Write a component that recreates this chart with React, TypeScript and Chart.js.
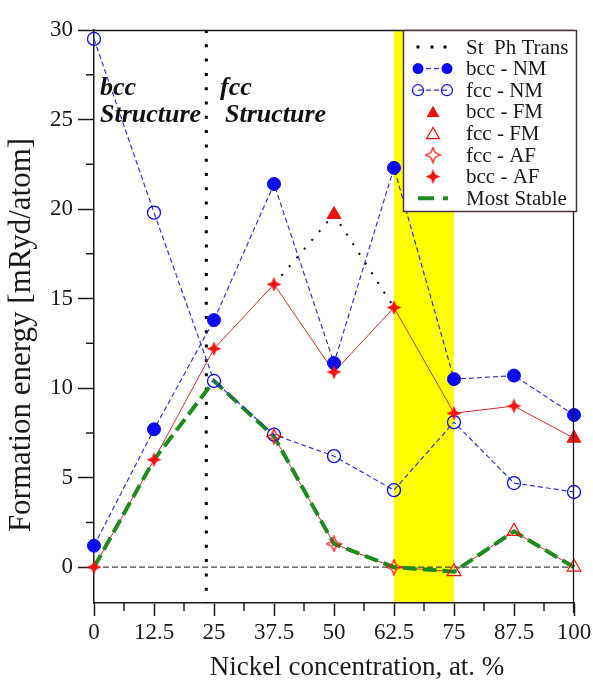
import React, { useEffect, useRef } from 'react';
import { Chart, registerables } from 'chart.js';

Chart.register(...registerables);

// ---------------- data ----------------
const concentrations = [0, 12.5, 25, 37.5, 50, 62.5, 75, 87.5, 100];
const bccNM = [1.2, 7.7, 13.8, 21.4, 11.4, 22.3, 10.5, 10.7, 8.5];
const fccNM = [29.5, 19.8, 10.4, 7.4, 6.2, 4.3, 8.1, 4.7, 4.2];

const bccFMx = [50, 100];
const bccFMy = [19.7, 7.2];

const fccFMx = [75, 87.5, 100];
const fccFMy = [-0.25, 2.0, 0.0];

const fccAFx = [37.5, 50, 62.5];
const fccAFy = [7.3, 1.3, 0.0];

const bccAFx = [0, 12.5, 25, 37.5, 50, 62.5, 75, 87.5];
const bccAFy = [0, 6.0, 12.2, 15.8, 10.9, 14.5, 8.6, 9.0];

// thin red line through the bcc magnetic states
const bccMagLine = [0, 6.0, 12.2, 15.8, 10.9, 14.5, 8.6, 9.0, 7.2];
// thin red line through the fcc magnetic states
const fccMagX = [37.5, 50, 62.5, 75, 87.5, 100];
const fccMagY = [7.3, 1.3, 0.0, -0.25, 2.0, 0.0];

const mostStable = [0, 6.0, 10.4, 7.3, 1.3, 0.0, -0.25, 2.0, 0.0];

const phaseBoundaryX = [23.4, 23.4];
const phaseBoundaryY = [30, -2];
const transX = [37.5, 50, 62.5];
const transY = [15.8, 19.7, 14.5];

const zeroLineX = [0, 100];
const zeroLineY = [0, 0];

const bandStart = 62.5;
const bandEnd = 75;

const yMin = -2;
const yMax = 30;
const yMajor = 5;
const yMinor = 2.5;
const xMin = 0;
const xMax = 100;
const xMajor = 12.5;
const xMinor = 6.25;

const legendLabels = [
  'St  Ph Trans',
  'bcc - NM',
  'fcc - NM',
  'bcc - FM',
  'fcc - FM',
  'fcc - AF',
  'bcc - AF',
  'Most Stable',
];

const xTitle = 'Nickel concentration, at. %';
const yTitle = 'Formation energy [mRyd/atom]';

// ---------------- styles ----------------
const SERIF = '"Liberation Serif", "Times New Roman", serif';
const BLUE = '#0a0af0';
const BLUE_LINE = '#3434c8';
const RED = '#ee1111';
const RED_LINE = '#c83030';
const GREEN = '#1f8a1f';
const INK = '#1a1a1a';

const pts = (xs: number[], ys: number[]) => xs.map((x, i) => ({ x, y: ys[i] }));

function makeStar(filled: boolean, size = 17): HTMLCanvasElement {
  const c = document.createElement('canvas');
  c.width = size;
  c.height = size;
  const g = c.getContext('2d')!;
  const cx = size / 2;
  const R = size / 2 - 1;
  const r = R * 0.42;
  g.beginPath();
  for (let i = 0; i < 8; i++) {
    const a = -Math.PI / 2 + (i * Math.PI) / 4;
    const rad = i % 2 === 0 ? R : r;
    const px = cx + rad * Math.cos(a);
    const py = cx + rad * Math.sin(a);
    if (i === 0) g.moveTo(px, py);
    else g.lineTo(px, py);
  }
  g.closePath();
  if (filled) {
    g.fillStyle = RED;
    g.fill();
  } else {
    g.strokeStyle = RED;
    g.lineWidth = 1.3;
    g.stroke();
  }
  return c;
}

function drawTriangle(ctx: CanvasRenderingContext2D, x: number, y: number, r: number, filled: boolean) {
  ctx.beginPath();
  for (let i = 0; i < 3; i++) {
    const a = (i * 2 * Math.PI) / 3;
    const px = x + Math.sin(a) * r;
    const py = y - Math.cos(a) * r;
    if (i === 0) ctx.moveTo(px, py);
    else ctx.lineTo(px, py);
  }
  ctx.closePath();
  if (filled) {
    ctx.fillStyle = RED;
    ctx.fill();
  } else {
    ctx.strokeStyle = RED;
    ctx.lineWidth = 1.2;
    ctx.stroke();
  }
}

export default function App() {
  const ref = useRef<HTMLCanvasElement | null>(null);

  useEffect(() => {
    const canvas = ref.current;
    if (!canvas) return;
    const starFilled = makeStar(true);
    const starOpen = makeStar(false);

    const decor = {
      id: 'decor',
      beforeDraw(chart: any) {
        const { ctx, chartArea: a, scales } = chart;
        const x = scales.x;
        ctx.save();
        ctx.fillStyle = '#ffff00';
        const x1 = x.getPixelForValue(bandStart);
        const x2 = x.getPixelForValue(bandEnd);
        ctx.fillRect(x1, a.top, x2 - x1, a.bottom - a.top);
        ctx.restore();
      },
      afterDraw(chart: any) {
        const { ctx, chartArea: a, scales } = chart;
        const x = scales.x;
        const y = scales.y;
        ctx.save();

        // frame: top and right
        ctx.strokeStyle = INK;
        ctx.lineWidth = 1.3;
        ctx.beginPath();
        ctx.moveTo(a.left, a.top + 0.5);
        ctx.lineTo(a.right, a.top + 0.5);
        ctx.moveTo(a.right - 0.5, a.top);
        ctx.lineTo(a.right - 0.5, a.bottom + 10);
        ctx.stroke();

        // minor ticks
        ctx.lineWidth = 1.5;
        ctx.strokeStyle = INK;
        ctx.beginPath();
        for (let v = yMinor; v < yMax; v += yMajor) {
          const py = y.getPixelForValue(v);
          ctx.moveTo(a.left, py);
          ctx.lineTo(a.left - 8, py);
        }
        for (let v = xMinor; v < xMax; v += xMajor) {
          const px = x.getPixelForValue(v);
          ctx.moveTo(px, a.bottom);
          ctx.lineTo(px, a.bottom + 8);
        }
        ctx.stroke();

        // structure annotations
        ctx.fillStyle = '#111';
        ctx.textAlign = 'left';
        ctx.textBaseline = 'alphabetic';
        ctx.font = `italic bold 26px ${SERIF}`;
        ctx.fillText('bcc', a.left + 6, a.top + 65);
        ctx.fillText('Structure', a.left + 6, a.top + 92);
        ctx.fillText('fcc', a.left + 126, a.top + 65);
        ctx.fillText('Structure', a.left + 131, a.top + 92);

        // axis titles
        ctx.fillStyle = INK;
        ctx.font = `27px ${SERIF}`;
        ctx.textAlign = 'center';
        ctx.fillText(xTitle, a.left + (a.right - a.left) * 0.548, a.bottom + 72);
        ctx.save();
        ctx.translate(22, a.top + 305);
        ctx.rotate(-Math.PI / 2);
        ctx.textBaseline = 'middle';
        ctx.font = `31px ${SERIF}`;
        ctx.fillText(yTitle, 0, 0);
        ctx.restore();

        // legend
        const L = a.right - 171;
        const T = a.top;
        const W = 173;
        const H = 181;
        ctx.fillStyle = '#ffffff';
        ctx.fillRect(L, T, W, H);
        ctx.strokeStyle = '#4c3444';
        ctx.lineWidth = 1.5;
        ctx.strokeRect(L + 0.5, T + 0.5, W, H);

        const row0 = T + 17;
        const step = 21.6;
        const sx1 = L + 15;
        const sx2 = L + 44;
        const sc = L + 30;
        const tx = L + 63;

        // 0: dots
        let ry = row0;
        ctx.fillStyle = '#000';
        [L + 15, L + 29, L + 42].forEach((dx) => ctx.fillRect(dx - 1.5, ry - 1.5, 3, 3));
        // 1 & 2: circles with dashed line
        for (let k = 1; k <= 2; k++) {
          ry = row0 + k * step;
          ctx.strokeStyle = BLUE_LINE;
          ctx.lineWidth = 1.2;
          ctx.setLineDash([5, 3]);
          ctx.beginPath();
          ctx.moveTo(sx1, ry);
          ctx.lineTo(sx2, ry);
          ctx.stroke();
          ctx.setLineDash([]);
          [sx1, sx2].forEach((cx) => {
            ctx.beginPath();
            ctx.arc(cx, ry, 5.5, 0, Math.PI * 2);
            if (k === 1) {
              ctx.fillStyle = BLUE;
              ctx.fill();
            } else {
              ctx.strokeStyle = BLUE;
              ctx.lineWidth = 1.2;
              ctx.stroke();
            }
          });
        }
        // 3 & 4: triangles
        drawTriangle(ctx, sc, row0 + 3 * step + 1.5, 7.5, true);
        drawTriangle(ctx, sc, row0 + 4 * step + 1.5, 7.5, false);
        // 5 & 6: stars
        ctx.drawImage(starOpen, sc - 8.5, row0 + 5 * step - 8.5);
        ctx.drawImage(starFilled, sc - 8.5, row0 + 6 * step - 8.5);
        // 7: green dash
        ry = row0 + 7 * step;
        ctx.strokeStyle = GREEN;
        ctx.lineWidth = 4;
        ctx.beginPath();
        ctx.moveTo(L + 15, ry);
        ctx.lineTo(L + 31, ry);
        ctx.moveTo(L + 40, ry);
        ctx.lineTo(L + 45, ry);
        ctx.stroke();

        ctx.fillStyle = INK;
        ctx.font = `21px ${SERIF}`;
        ctx.textAlign = 'left';
        ctx.textBaseline = 'middle';
        legendLabels.forEach((t, i) => ctx.fillText(t, tx, row0 + i * step + 1));

        ctx.restore();
      },
    };

    const chart = new Chart(canvas, {
      type: 'line',
      data: {
        datasets: [
          {
            label: 'bcc - FM',
            data: pts(bccFMx, bccFMy),
            showLine: false,
            pointStyle: 'triangle',
            pointRadius: 8,
            pointBackgroundColor: RED,
            pointBorderColor: RED,
            pointBorderWidth: 1,
            order: 0,
          },
          {
            label: 'fcc - FM',
            data: pts(fccFMx, fccFMy),
            showLine: false,
            pointStyle: 'triangle',
            pointRadius: 8,
            pointBackgroundColor: 'rgba(0,0,0,0)',
            pointBorderColor: RED,
            pointBorderWidth: 1.2,
            order: 0,
          },
          {
            label: 'fcc - AF',
            data: pts(fccAFx, fccAFy),
            showLine: false,
            pointStyle: starOpen,
            pointRadius: 8,
            order: 0,
          },
          {
            label: 'bcc - AF',
            data: pts(bccAFx, bccAFy),
            showLine: false,
            pointStyle: starFilled,
            pointRadius: 8,
            order: 0,
          },
          {
            label: 'bcc - NM',
            data: pts(concentrations, bccNM),
            borderColor: BLUE_LINE,
            borderWidth: 1.2,
            borderDash: [5, 3],
            pointStyle: 'circle',
            pointRadius: 6.5,
            pointBackgroundColor: BLUE,
            pointBorderColor: BLUE,
            pointBorderWidth: 1,
            order: 1,
          },
          {
            label: 'fcc - NM',
            data: pts(concentrations, fccNM),
            borderColor: BLUE_LINE,
            borderWidth: 1.2,
            borderDash: [5, 3],
            pointStyle: 'circle',
            pointRadius: 6.5,
            pointBackgroundColor: 'rgba(0,0,0,0)',
            pointBorderColor: BLUE,
            pointBorderWidth: 1.3,
            order: 1,
          },
          {
            label: 'Most Stable',
            data: pts(concentrations, mostStable),
            borderColor: GREEN,
            borderWidth: 4,
            borderDash: [14, 6],
            pointRadius: 0,
            order: 2,
          },
          {
            label: 'bcc magnetic',
            data: pts(concentrations, bccMagLine),
            borderColor: RED_LINE,
            borderWidth: 1,
            pointRadius: 0,
            order: 3,
          },
          {
            label: 'fcc magnetic',
            data: pts(fccMagX, fccMagY),
            borderColor: RED_LINE,
            borderWidth: 1,
            pointRadius: 0,
            order: 3,
          },
          {
            label: 'St  Ph Trans',
            data: pts(phaseBoundaryX, phaseBoundaryY),
            borderColor: '#000',
            borderWidth: 3,
            borderDash: [3, 11.3],
            pointRadius: 0,
            order: 4,
          },
          {
            label: 'St Ph Trans (bcc)',
            data: pts(transX, transY),
            borderColor: '#000',
            borderWidth: 2,
            borderDash: [2, 9.5],
            pointRadius: 0,
            order: 4,
          },
          {
            label: 'zero',
            data: pts(zeroLineX, zeroLineY),
            borderColor: '#444',
            borderWidth: 1.3,
            borderDash: [6, 3],
            pointRadius: 0,
            order: 5,
          },
        ] as any,
      },
      options: {
        responsive: false,
        animation: false,
        events: [],
        clip: false as any,
        layout: { padding: { top: 30, right: 19, left: 0, bottom: 0 } },
        elements: { line: { tension: 0 }, point: { hoverRadius: 0 } },
        plugins: {
          legend: { display: false },
          tooltip: { enabled: false },
        },
        scales: {
          x: {
            type: 'linear',
            min: xMin,
            max: xMax,
            afterFit: (s: any) => {
              s.height = 82;
              s.paddingRight = 0;
            },
            ticks: {
              stepSize: xMajor,
              includeBounds: false,
              autoSkip: false,
              maxRotation: 0,
              padding: 3,
              color: INK,
              font: { family: SERIF, size: 23 },
              callback: (v: any) => String(v),
            },
            grid: {
              drawOnChartArea: false,
              drawTicks: true,
              tickLength: 13,
              tickColor: INK,
              tickWidth: 1.5,
            },
            border: { display: true, color: INK, width: 1.5 },
          },
          y: {
            type: 'linear',
            min: yMin,
            max: yMax,
            afterFit: (s: any) => {
              s.width = 94;
            },
            ticks: {
              stepSize: yMajor,
              includeBounds: false,
              padding: 5,
              color: INK,
              font: { family: SERIF, size: 23 },
              callback: (v: any) => String(v),
            },
            grid: {
              drawOnChartArea: false,
              drawTicks: true,
              tickLength: 16,
              tickColor: INK,
              tickWidth: 1.5,
            },
            border: { display: true, color: INK, width: 1.5 },
          },
        } as any,
      },
      plugins: [decor],
    });

    return () => chart.destroy();
  }, []);

  return (
    <div style={{ position: 'absolute', left: 0, top: 0, width: 593, height: 685, background: '#fff' }}>
      <canvas ref={ref} width={593} height={685} style={{ width: 593, height: 685, display: 'block' }} />
    </div>
  );
}
